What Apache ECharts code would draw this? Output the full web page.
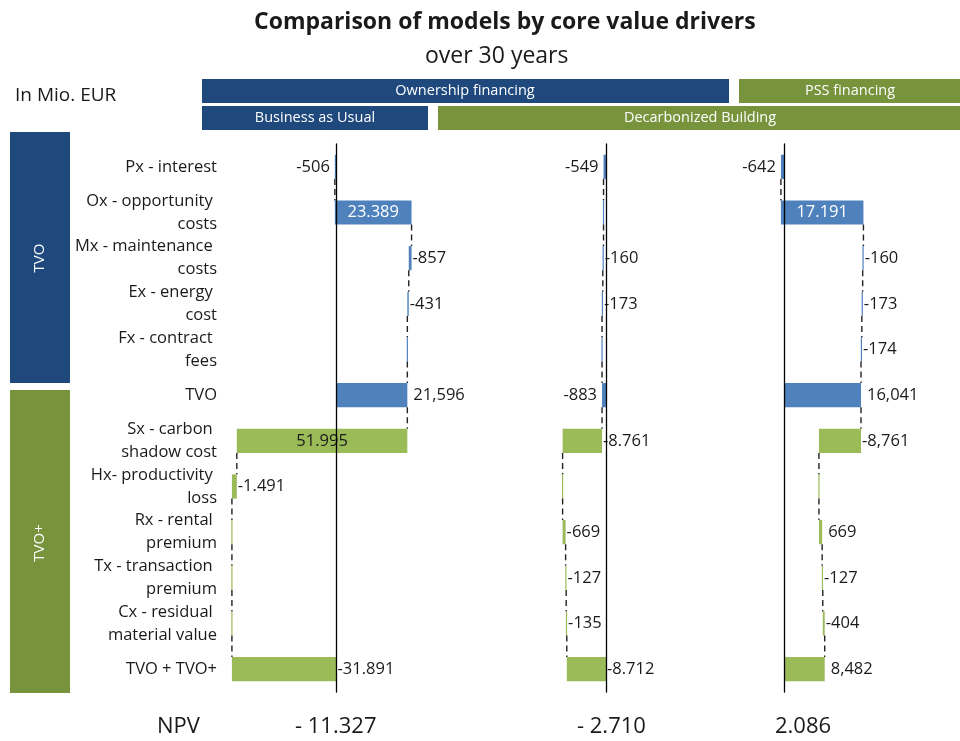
<!DOCTYPE html>
<html><head><meta charset="utf-8">
<script src="https://cdn.jsdelivr.net/npm/echarts/dist/echarts.min.js"></script>
<style>html,body{margin:0;padding:0;background:#fff}#c{width:960px;height:741px}</style>
</head><body><div id="c"></div>
<script>
// ---------------- data ----------------
const categories = [
  'Px - interest',
  'Ox - opportunity \ncosts',
  'Mx - maintenance \ncosts',
  'Ex - energy \ncost',
  'Fx - contract \nfees',
  'TVO',
  'Sx - carbon \nshadow cost',
  'Hx- productivity \nloss',
  'Rx - rental \npremium',
  'Tx - transaction \npremium',
  'Cx - residual \nmaterial value',
  'TVO + TVO+'
];
// null = total bar (drawn from 0 to running sum)
const buValues  = [-506, 23389, -857, -431, 0, null, -51995, -1491, 0, 0, 0, null];
const buLabels  = ['-506', '23.389', '-857', '-431', '', '21,596', '51.995', '-1.491', '', '', '', '-31.891'];
const dbValues  = [-549, 0, -160, -173, 0, null, -8761, 0, 669, 127, 135, null];
const dbLabels  = ['-549', '', '-160', '-173', '', '-883', '-8.761', '', '-669', '-127', '-135', '-8.712'];
const pssValues = [-642, 17191, -160, -173, -174, null, -8761, 0, 669, 127, 404, null];
const pssLabels = ['-642', '17.191', '-160', '-173', '-174', '16,041', '-8,761', '', '669', '-127', '-404', '8,482'];
const npvLabels = ['- 11.327', '- 2.710', '2.086'];
const headerTop = ['Ownership financing', 'PSS financing'];
const headerBottom = ['Business as Usual', 'Decarbonized Building'];
const sections = ['TVO', 'TVO+'];

// ---------------- styling / layout ----------------
const BLUE = '#4f81bd', GREEN = '#9bbb59', DARKBLUE = '#1f497d', OLIVE = '#77933c';
const FONT = '"Open Sans", "Noto Sans", sans-serif';
const TXT = '#1a1a1a';
// label placement per row: L left, R right, I inside, N none
const placements = [
  'LIRRNRIRNNNR',
  'LNRRNLRNRRRR',
  'LIRRRRRNRRRR'
];

function buildRows(values, labels) {
  const rows = [];
  let cum = 0;
  values.forEach(function (v, i) {
    let s, e;
    if (v === null) { s = 0; e = cum; }
    else { s = cum; e = cum + v; cum = e; }
    rows.push({ i: i, s: s, e: e, lab: labels[i], sec: i < 6 ? 0 : 1 });
  });
  return rows;
}

function makeSeries(panel, values, labels, yIndex) {
  const rows = buildRows(values, labels);
  const place = placements[panel];
  return {
    type: 'custom',
    xAxisIndex: panel,
    yAxisIndex: yIndex,
    z: 3,
    data: rows.map(function (r) { return [r.i, r.s, r.e]; }),
    encode: { x: [1, 2], y: 0 },
    renderItem: function (params, api) {
      const r = rows[params.dataIndex];
      const p1 = api.coord([r.s, r.i]);
      const p2 = api.coord([r.e, r.i]);
      const band = api.size([0, 1])[1];
      const h = band * 0.53;
      const cy = p1[1];
      let x0 = Math.min(p1[0], p2[0]), x1 = Math.max(p1[0], p2[0]);
      if (x1 - x0 < 1.2) { const m = (x0 + x1) / 2; x0 = m - 0.6; x1 = m + 0.6; }
      const color = r.sec === 0 ? BLUE : GREEN;
      const children = [{
        type: 'rect',
        shape: { x: x0, y: cy - h / 2, width: x1 - x0, height: h },
        style: { fill: color }
      }];
      if (r.i < rows.length - 1) {
        const nx = api.coord([r.e, r.i + 1]);
        children.push({
          type: 'line',
          shape: { x1: p2[0], y1: cy + h / 2, x2: p2[0], y2: nx[1] - h / 2 },
          style: { stroke: '#222', lineWidth: 1.4, lineDash: [6, 4] }
        });
      }
      const pl = place[r.i];
      if (r.lab && pl !== 'N') {
        let tx, align, fill = TXT;
        if (pl === 'L') { tx = x0 - 5; align = 'right'; }
        else if (pl === 'R') { tx = x1 + (r.lab.charAt(0) === '-' ? 1 : 6); align = 'left'; }
        else { tx = (x0 + x1) / 2; align = 'center'; fill = r.sec === 0 ? '#ffffff' : TXT; }
        children.push({
          type: 'text',
          z2: 10,
          style: {
            text: r.lab, x: tx, y: cy,
            align: align, verticalAlign: 'middle',
            textAlign: align, textVerticalAlign: 'middle',
            fill: fill, font: '16.5px ' + FONT
          }
        });
      }
      return { type: 'group', children: children };
    }
  };
}

const GRID_TOP = 144, GRID_H = 548;
const grids = [
  { left: 225, top: GRID_TOP, width: 245, height: GRID_H },
  { left: 480, top: GRID_TOP, width: 150, height: GRID_H },
  { left: 700, top: GRID_TOP, width: 200, height: GRID_H }
];
const xRanges = [[-34000, 40700], [-28000, 5333], [-17500, 24167]];

const xAxes = xRanges.map(function (rg, k) {
  return { type: 'value', gridIndex: k, min: rg[0], max: rg[1], show: false };
});
function zeroAxis(k) {
  return {
    type: 'category', gridIndex: k, data: categories, inverse: true, z: 6,
    axisLine: { show: true, onZero: true, lineStyle: { color: '#000', width: 1.3 } },
    axisTick: { show: false }, axisLabel: { show: false }, splitLine: { show: false }
  };
}
const yAxes = [
  zeroAxis(0),
  {
    type: 'category', gridIndex: 0, data: categories, inverse: true, position: 'left',
    axisLine: { show: false, onZero: false }, axisTick: { show: false }, splitLine: { show: false },
    axisLabel: { show: true, margin: 8, fontSize: 16.5, lineHeight: 23, color: TXT, fontFamily: FONT, align: 'right' }
  },
  zeroAxis(1),
  zeroAxis(2)
];

function txt(text, x, y, size, color, opts) {
  opts = opts || {};
  return {
    type: 'text', x: x, y: y, rotation: opts.rot || 0, z: 10,
    style: {
      text: text, x: 0, y: 0,
      align: opts.align || 'center', verticalAlign: 'middle',
      textAlign: opts.align || 'center', textVerticalAlign: 'middle',
      fill: color, font: (opts.weight || 'normal') + ' ' + size + 'px ' + (opts.family || FONT)
    }
  };
}
function box(x, y, w, h, fill) {
  return { type: 'rect', shape: { x: x, y: y, width: w, height: h }, style: { fill: fill }, z: 5 };
}

const graphic = [
  box(202, 79, 527, 24, DARKBLUE), txt(headerTop[0], 465, 91, 14.5, '#fff'),
  box(739, 79, 221, 24, OLIVE), txt(headerTop[1], 850, 91, 14.5, '#fff'),
  box(202, 106, 226, 24, DARKBLUE), txt(headerBottom[0], 315, 118, 14.5, '#fff'),
  box(438, 106, 522, 24, OLIVE), txt(headerBottom[1], 700, 118, 14.5, '#fff'),
  box(10, 132, 60, 251, DARKBLUE), txt(sections[0], 40, 258, 15, '#fff', { rot: Math.PI / 2 }),
  box(10, 390, 60, 303, OLIVE), txt(sections[1], 40, 543, 15, '#fff', { rot: Math.PI / 2 }),
  txt('In Mio. EUR', 15, 96, 19, TXT, { align: 'left' }),
  txt('NPV', 157, 727, 22, TXT, { align: 'left' }),
  txt(npvLabels[0], 295, 727, 22, TXT, { align: 'left' }),
  txt(npvLabels[1], 577, 727, 22, TXT, { align: 'left' }),
  txt(npvLabels[2], 775, 727, 22, TXT, { align: 'left' })
];

const chart = echarts.init(document.getElementById('c'), null, { renderer: 'canvas' });
chart.setOption({
  backgroundColor: '#ffffff',
  animation: false,
  title: [
    { text: 'Comparison of models by core value drivers', left: 249, top: 6,
      textStyle: { fontSize: 23, fontWeight: 'bold', color: TXT, fontFamily: FONT } },
    { text: 'over 30 years', left: 420, top: 40,
      textStyle: { fontSize: 23, fontWeight: 'normal', color: TXT, fontFamily: FONT } }
  ],
  grid: grids,
  xAxis: xAxes,
  yAxis: yAxes,
  series: [
    makeSeries(0, buValues, buLabels, 0),
    makeSeries(1, dbValues, dbLabels, 2),
    makeSeries(2, pssValues, pssLabels, 3)
  ],
  graphic: graphic
});
</script>
</body></html>
